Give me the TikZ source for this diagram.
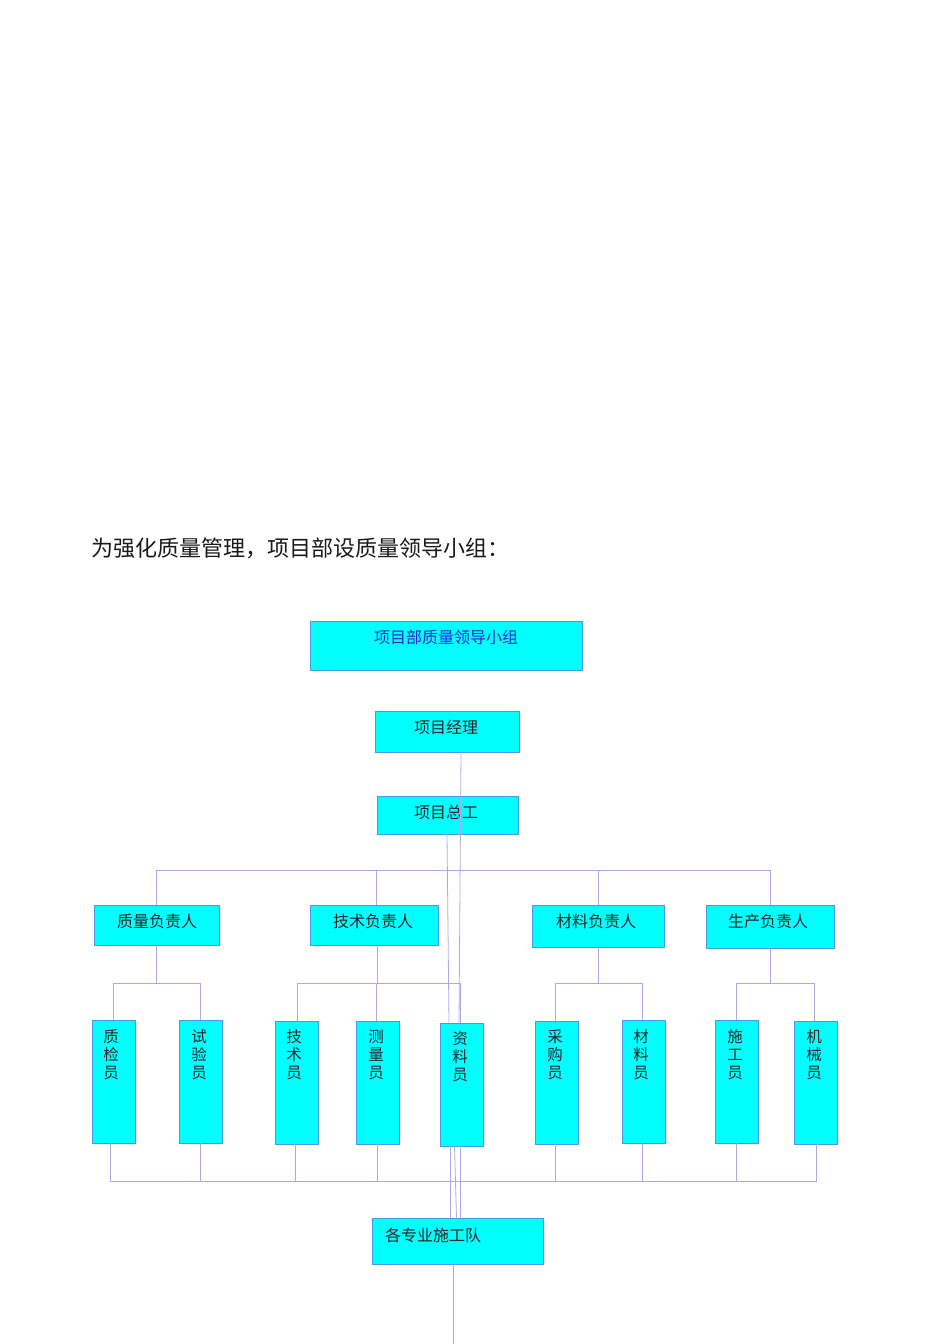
\documentclass[tikz,border=0pt]{standalone}
\usepackage{fontspec}
\newfontfamily\cjk{Noto Sans CJK SC}
\usetikzlibrary{fit}
\definecolor{boxfill}{RGB}{0,255,255}
\definecolor{boxline}{RGB}{80,150,230}
\definecolor{conn}{RGB}{170,170,232}
\definecolor{titleblue}{RGB}{40,40,210}
\tikzset{
  box/.style={draw=boxline, line width=0.8pt, fill=boxfill, inner sep=0pt},
  lbl/.style={inner sep=0pt, font=\cjk\fontsize{16}{16}\selectfont, text=black!85},
  vlbl/.style={inner sep=0pt, font=\cjk\fontsize{15.5}{18}\selectfont, text=black!85, align=center, anchor=north},
  conn/.style={draw=conn, line width=0.8pt}
}
\newcommand{\mkbox}[5]{\node[box, fit={(#2,#3) (#4,#5)}] (#1) {};}
\begin{document}
\begin{tikzpicture}[x=1pt,y=-1pt]
\useasboundingbox (0,0) rectangle (950,1344);
% heading
\node[inner sep=0pt, anchor=west, font=\cjk\fontsize{22}{22}\selectfont, text=black!90] (head) at (91,548) {为强化质量管理，项目部设质量领导小组：};
% boxes
\mkbox{top}{310}{621}{582}{670}
\mkbox{pm}{375}{711}{519}{752}
\mkbox{ce}{377}{796}{518}{834}
\mkbox{q}{94}{905}{219}{945}
\mkbox{t}{310}{905}{438}{945}
\mkbox{m}{532}{905}{664}{947}
\mkbox{p}{706}{905}{834}{948}
\mkbox{zj}{92}{1020}{135}{1143}
\mkbox{sy}{179}{1020}{222}{1143}
\mkbox{js}{275}{1021}{318}{1144}
\mkbox{cl}{356}{1021}{399}{1144}
\mkbox{zl}{440}{1023}{483}{1146}
\mkbox{cg}{535}{1021}{578}{1144}
\mkbox{cly}{622}{1020}{665}{1143}
\mkbox{sg}{715}{1020}{758}{1143}
\mkbox{jx}{794}{1021}{837}{1144}
\mkbox{team}{372}{1218}{543}{1264}
% labels
\node[lbl, text=titleblue] (topl) at (446,637) {项目部质量领导小组};
\node[lbl] (pml) at (446,727) {项目经理};
\node[lbl] (cel) at (446,812) {项目总工};
\node[lbl] (ql) at (157,921) {质量负责人};
\node[lbl] (tl) at (373,921) {技术负责人};
\node[lbl] (ml) at (596,921) {材料负责人};
\node[lbl] (pl) at (768,921) {生产负责人};
\node[vlbl] (zjl) at (111,1029) {质\\检\\员};
\node[vlbl] (syl) at (199,1029) {试\\验\\员};
\node[vlbl] (jsl) at (294,1029) {技\\术\\员};
\node[vlbl] (cll) at (376,1029) {测\\量\\员};
\node[vlbl] (zll) at (460,1031) {资\\料\\员};
\node[vlbl] (cgl) at (555,1029) {采\\购\\员};
\node[vlbl] (clyl) at (641,1029) {材\\料\\员};
\node[vlbl] (sgl) at (735,1029) {施\\工\\员};
\node[vlbl] (jxl) at (814,1029) {机\\械\\员};
\node[lbl, anchor=west] (teaml) at (385,1235) {各专业施工队};
% rails
\coordinate (r1) at (0,870);
\coordinate (r2) at (0,983);
\coordinate (r3) at (0,1181);
\coordinate (bot) at (453,1344);
% connectors level 1 -> 2
\draw[conn] (q.north) |- (p.north |- r1) -- (p.north);
\draw[conn] ([xshift=2pt]t.north) -- ([xshift=2pt]t.north |- r1);
\draw[conn] (m.north) -- (m.north |- r1);
% level 2 -> 3
\draw[conn] (q.south) -- (q.south |- r2);
\draw[conn] (zj.north) |- (sy.north |- r2) -- (sy.north);
\draw[conn] ([xshift=3pt]t.south) -- ([xshift=3pt]t.south |- r2);
\draw[conn] ([xshift=1pt]js.north) |- ([xshift=-1pt]zl.north |- r2) -- ([xshift=-1pt]zl.north);
\draw[conn] ([xshift=-1pt]cl.north) -- ([xshift=-1pt]cl.north |- r2);
\draw[conn] (m.south) -- (m.south |- r2);
\draw[conn] ([xshift=-1pt]cg.north) |- ([xshift=-1pt]cly.north |- r2) -- ([xshift=-1pt]cly.north);
\draw[conn] (p.south) -- (p.south |- r2);
\draw[conn] (sg.north) |- ([xshift=-1pt]jx.north |- r2) -- ([xshift=-1pt]jx.north);
% level 3 -> bottom rail
\draw[conn] ([xshift=-3pt]zj.south) |- ([xshift=1pt]jx.south |- r3) -- ([xshift=1pt]jx.south);
\draw[conn] ([xshift=-0.5pt]sy.south) -- ([xshift=-0.5pt]sy.south |- r3);
\draw[conn] ([xshift=-1.5pt]js.south) -- ([xshift=-1.5pt]js.south |- r3);
\draw[conn] ([xshift=-0.5pt]cl.south) -- ([xshift=-0.5pt]cl.south |- r3);
\draw[conn] ([xshift=-1.5pt]cg.south) -- ([xshift=-1.5pt]cg.south |- r3);
\draw[conn] ([xshift=-1.5pt]cly.south) -- ([xshift=-1.5pt]cly.south |- r3);
\draw[conn] (sg.south) -- (sg.south |- r3);
% long lines through the middle
\draw[conn] ([xshift=14pt]pm.south) -- ([xshift=-2.5pt]zl.north);
\draw[conn] ([xshift=-0.5pt]ce.south) -- ([xshift=-12.5pt]zl.north);
\draw[conn] ([xshift=-11.5pt]zl.south) -- ([xshift=-11.5pt]team.north -| zl.south);
\draw[conn] ([xshift=-7pt]zl.south) -- ([xshift=-5pt]team.north -| zl.south);
\draw[conn] ([xshift=-1.5pt]zl.south) -- ([xshift=-1.5pt]team.north -| zl.south);
\draw[conn] ([xshift=-4.5pt]team.south) -- (bot);
\end{tikzpicture}
\end{document}
